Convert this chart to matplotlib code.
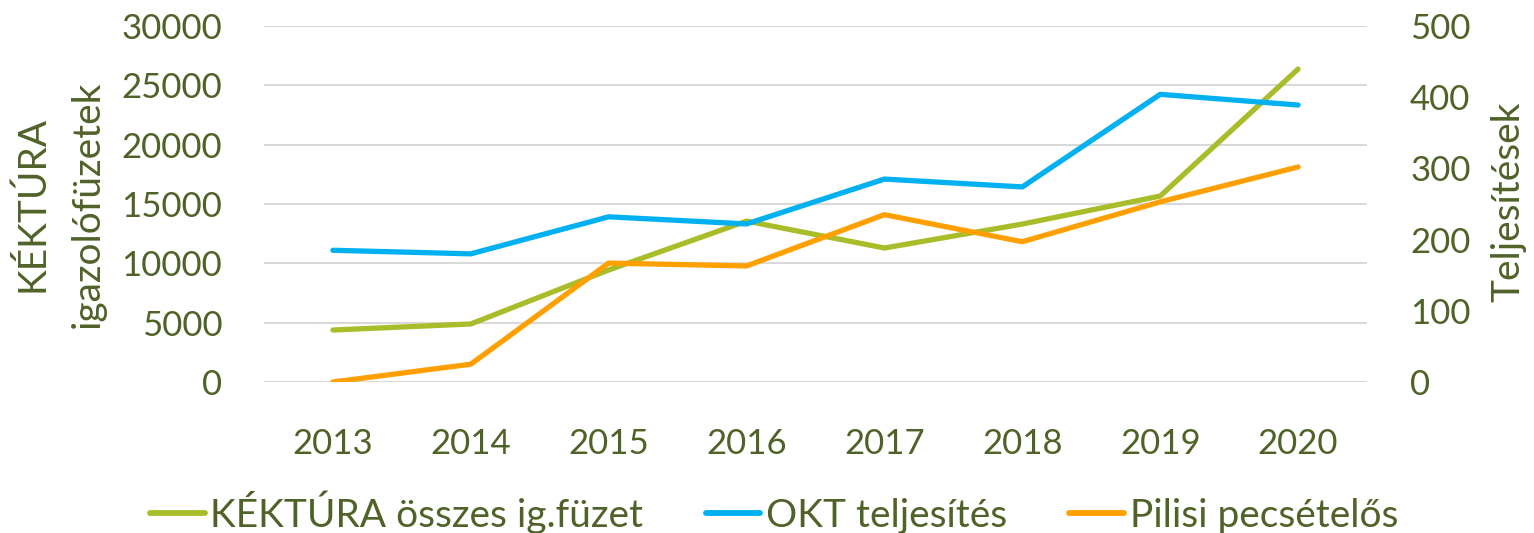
import matplotlib
matplotlib.use("Agg")
import matplotlib.pyplot as plt
from matplotlib.lines import Line2D

years = ["2013", "2014", "2015", "2016", "2017", "2018", "2019", "2020"]
kektura = [4380, 4890, 9440, 13560, 11290, 13310, 15670, 26370]
okt = [185, 180, 232, 222, 285, 274, 404, 389]
pilisi = [0, 25, 167, 163, 235, 197, 253, 302]

left_ticks = [0, 5000, 10000, 15000, 20000, 25000, 30000]
right_ticks = [0, 100, 200, 300, 400, 500]

TXT = "#4F6228"
GREEN = "#A9BC2A"
BLUE = "#00B0F0"
ORANGE = "#FFA000"
FONT = ["Lato", "DejaVu Sans"]
plt.rcParams['font.family'] = FONT

fig = plt.figure(figsize=(15.34, 5.33), dpi=100)
ax = fig.add_axes([264/1534, 1-382/533, (1367-264)/1534, (382-26)/533])
ax2 = ax.twinx()

x = list(range(len(years)))
lw = 3.8
ax.plot(x, kektura, color=GREEN, lw=lw, solid_capstyle='round', solid_joinstyle='round', zorder=3)
ax2.plot(x, okt, color=BLUE, lw=lw, solid_capstyle='round', solid_joinstyle='round', zorder=3)
ax2.plot(x, pilisi, color=ORANGE, lw=lw, solid_capstyle='round', solid_joinstyle='round', zorder=3)

ax.set_xlim(-0.5, len(years) - 0.5)
ax.set_ylim(0, 30000)
ax2.set_ylim(0, 500)
ax.set_yticks(left_ticks)
ax.set_yticklabels([str(t) for t in left_ticks])
ax2.set_yticks(right_ticks)
ax2.set_yticklabels([str(t) for t in right_ticks])
ax.set_xticks(x)
ax.set_xticklabels(years)

for a in (ax, ax2):
    for s in a.spines.values():
        s.set_visible(False)
    a.tick_params(length=0, labelsize=25, labelcolor=TXT)
ax.tick_params(axis='y', pad=30)
ax.tick_params(axis='x', pad=33)
ax2.tick_params(axis='y', pad=31)
ax.grid(axis='y', color='#D9D9D9', lw=1.5)
ax.set_axisbelow(True)

fig.text(32/1534, 1-204/533, "KÉKTÚRA", rotation=90, ha='center', va='center', fontsize=28, color=TXT)
fig.text(88/1534, 1-204/533, "igazolófüzetek", rotation=90, ha='center', va='center', fontsize=28, color=TXT)
fig.text(1508/1534, 1-202/533, "Teljesítések", rotation=90, ha='center', va='center', fontsize=28, color=TXT)

handles = [Line2D([], [], color=GREEN, lw=lw + 0.4, solid_capstyle='round'),
           Line2D([], [], color=BLUE, lw=lw + 0.4, solid_capstyle='round'),
           Line2D([], [], color=ORANGE, lw=lw + 0.4, solid_capstyle='round')]
labels = ["KÉKTÚRA összes ig.füzet", "OKT teljesítés", "Pilisi pecsételős"]
fig.legend(handles, labels, loc='center', bbox_to_anchor=(774/1534, 1-512/533), ncol=3,
           frameon=False, fontsize=28, labelcolor=TXT, handlelength=1.4, handletextpad=0.15,
           columnspacing=1.6, borderpad=0, borderaxespad=0)

fig.savefig("out.png", dpi=100)
